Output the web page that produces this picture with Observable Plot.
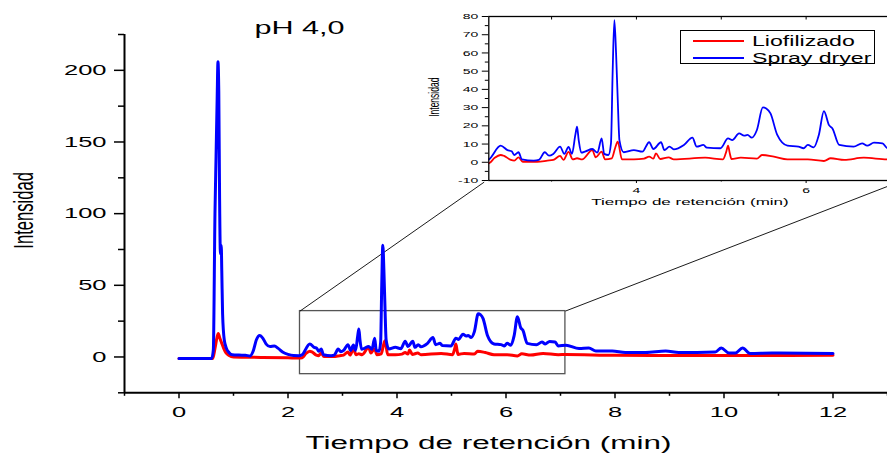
<!DOCTYPE html>
<html>
<head>
<meta charset="utf-8">
<script src="https://cdn.jsdelivr.net/npm/d3@7"></script>
<script src="https://cdn.jsdelivr.net/npm/@observablehq/plot@0.6"></script>
<style>
html, body { margin: 0; padding: 0; background: #fff; overflow: hidden; }
#wrap { position: relative; width: 887px; height: 453px; overflow: hidden; font-family: "Liberation Sans", Arial, sans-serif; }
#main, #inset { position: absolute; top: 0; }
#main { left: 0; }
#inset { left: 400px; }
#legend { position: absolute; left: 680px; top: 30px; width: 195px; height: 34px; box-sizing: border-box; border: 1.3px solid #000; background: #fff; }
#legend .sw { position: absolute; left: 12px; width: 51px; height: 0; border-top: 2px solid; }
#legend .lb { position: absolute; left: 71px; font-size: 14px; line-height: 16px; color: #000; white-space: nowrap; transform: scaleX(1.65); transform-origin: left center; }
</style>
</head>
<body>
<div id="wrap">
  <div id="main"></div>
  <div id="inset"></div>
  <div id="legend"></div>
</div>
<script>
// ---- data ----
const seriesNames = ["Liofilizado", "Spray dryer"];
const seriesColors = ["#ff0000", "#0000ff"];

const timeSpray = [0, 0.60, 0.63, 0.66, 0.68, 0.70, 0.715, 0.73, 0.745, 0.76, 0.775, 0.785, 0.80, 0.83, 0.87, 0.92, 0.98,
  1.10, 1.22, 1.30, 1.36, 1.42, 1.48, 1.54, 1.60, 1.67, 1.75, 1.82, 1.90, 2.00, 2.10, 2.20,
  2.26, 2.40, 2.48, 2.53, 2.56, 2.61, 2.65, 2.79, 2.85, 2.92, 2.97, 3.02, 3.10, 3.15, 3.20, 3.24, 3.28, 3.30, 3.32, 3.35,
  3.40, 3.48, 3.54, 3.59, 3.62, 3.67, 3.70, 3.72, 3.74, 3.76, 3.78, 3.80, 3.85, 3.97, 4.07, 4.15, 4.20, 4.29, 4.33,
  4.39, 4.44, 4.56, 4.66, 4.71, 4.79, 4.83, 4.99, 5.08, 5.13, 5.21, 5.27, 5.31, 5.36, 5.42, 5.49, 5.53, 5.58, 5.66,
  5.78, 5.91, 5.97, 6.02, 6.09, 6.15, 6.21, 6.27, 6.31, 6.39, 6.56, 6.66, 6.72, 6.80, 6.90, 6.96,
  7.10, 7.34, 7.52, 7.65, 7.95, 8.19, 8.56, 8.93, 9.17, 9.84, 9.95, 10.09, 10.21, 10.34, 10.48, 10.88, 12.0];
const intSpray = [-1, -1, 5, 100, 140, 180, 206, 185, 110, 72, 78, 60, 30, 12, 6, 3, 1.5,
  1.3, 1.2, 0.6, 4, 12, 15, 13, 9, 7.3, 7.6, 6, 3.5, 1.8, 1.0, 0.9,
  1.6, 9.1, 6.7, 6.0, 4.0, 5.5, 1.6, 0.9, 1.3, 5.5, 3.6, 4.6, 8.6, 4.6, 8.4, 4.6, 15, 19.5, 12, 5.3,
  6.0, 7.3, 5.3, 13.1, 4.6, 4.0, 10.4, 50, 78, 60, 34, 12, 5.5, 6.7, 5.8, 11, 7.3, 11, 6.7,
  8.6, 7.1, 9.5, 13.5, 8.6, 9.5, 8.0, 7.7, 13.1, 12.2, 15.9, 14.6, 15.0, 13.5, 17.7, 30.1, 29.5, 26.8, 15,
  9.1, 8.6, 7.7, 9.5, 8.2, 15, 28.1, 20.4, 18.6, 9.5, 8.6, 10.4, 9.1, 10.8, 10.4, 7.7,
  8.2, 5.9, 6.3, 4.2, 4.2, 3.1, 3.1, 4.2, 3.1, 3.5, 6.3, 2.8, 2.8, 6.3, 2.4, 2.8, 2.4];

const timeLiof = [0, 0.62, 0.66, 0.70, 0.72, 0.75, 0.78, 0.82, 0.86, 0.92, 1.00, 1.50, 2.00, 2.20,
  2.26, 2.33, 2.40, 2.44, 2.52, 2.56, 2.61, 2.66, 2.83, 2.95, 3.02, 3.10, 3.14, 3.20, 3.25, 3.30, 3.36,
  3.48, 3.52, 3.59, 3.63, 3.71, 3.75, 3.78, 3.83, 3.97, 4.09, 4.15, 4.20, 4.23, 4.28, 4.38, 4.44, 4.81,
  5.02, 5.06, 5.08, 5.10, 5.12, 5.23, 5.42, 5.48, 5.62, 5.78, 6.02, 6.21, 6.29, 6.45, 6.68, 6.96,
  7.10, 8.0, 10.0, 12.0];
const intLiof = [-1, -1, 6, 14, 16.4, 13, 10, 6, 3, 1, 0, -0.3, -0.6, -0.8,
  -0.6, 2.5, 4.0, 3.5, 1.3, 0.9, 2.7, 0.3, 0.3, 0.9, 1.3, 3.5, 1.3, 5.7, 1.6, 2.2, 1.6,
  6.7, 2.7, 5.8, 1.6, 2.2, 8, 11.3, 1.6, 1.6, 2.0, 3.1, 2.0, 4.9, 1.8, 2.7, 1.6, 2.5,
  1.6, 6, 9.1, 5, 1.8, 2.5, 2.0, 4.0, 3.1, 1.6, 1.6, 0.7, 2.2, 1.3, 2.5, 1.6,
  1.7, 1.2, 1.0, 1.2];

// main axes
const xMajorTicks = [0, 2, 4, 6, 8, 10, 12];
const xMinorTicks = [-1, 1, 3, 5, 7, 9, 11, 13];
const yMajorTicks = [0, 50, 100, 150, 200];
const yMinorTicks = [-25, 25, 75, 125, 175, 225];
// inset axes
const insetXMajorTicks = [4, 6];
const insetXMinorTicks = [3, 5];
const insetXTopTicks = [3, 4, 5, 6];
const insetYMajorTicks = [-10, 0, 10, 20, 30, 40, 50, 60, 70, 80];
const insetYMinorTicks = [-5, 5, 15, 25, 35, 45, 55, 65, 75];

// zoom annotation (main-plot data units)
const zoomX = [2.22, 7.09];
const zoomY = [-12, 32];
const connectorFromX = [2.22, 7.09];
const connectorFromY = [32, 32];
const connectorToX = [5.6, 13.0];
const connectorToY = [122, 119];

const titleText = "pH 4,0";
const xLabelText = "Tiempo de retención (min)";
const yLabelText = "Intensidad";

// ---- tables ----
const spray = timeSpray.map((t, i) => ({t, v: intSpray[i]}));
const liof = timeLiof.map((t, i) => ({t, v: intLiof[i]}));
const zoomBox = [{x1: zoomX[0], x2: zoomX[1], y1: zoomY[0], y2: zoomY[1]}];
const connectors = connectorFromX.map((x, i) => ({x1: x, y1: connectorFromY[i], x2: connectorToX[i], y2: connectorToY[i]}));

const FONT = "'Liberation Sans', Arial, sans-serif";
const intFormat = d => String(d);

function stretchText(svg, k) {
  svg.querySelectorAll("text").forEach(t => {
    const tr = t.getAttribute("transform");
    if (tr && /^\s*translate\([^)]*\)/.test(tr)) {
      t.setAttribute("transform", tr.replace(/^\s*(translate\([^)]*\))/, `$1 scale(${k},1)`));
    } else {
      const x = +(t.getAttribute("x") || 0), y = +(t.getAttribute("y") || 0);
      t.removeAttribute("x"); t.removeAttribute("y");
      t.setAttribute("transform", `translate(${x},${y}) scale(${k},1)` + (tr ? " " + tr : ""));
    }
  });
}

// ---- main chart ----
const main = Plot.plot({
  width: 887, height: 453,
  marginLeft: 124, marginRight: 0, marginTop: 34, marginBottom: 60.7,
  x: {domain: [-1, 13], label: null},
  y: {domain: [-25, 225], label: null},
  style: {fontFamily: FONT, color: "#000", background: "transparent", maxWidth: "none", overflow: "visible"},
  marks: [
    Plot.rect(zoomBox, {x1: "x1", x2: "x2", y1: "y1", y2: "y2", fill: "none", stroke: "#555", strokeWidth: 1.3}),
    Plot.link(connectors, {x1: "x1", y1: "y1", x2: "x2", y2: "y2", stroke: "#000", strokeWidth: 0.9}),
    Plot.line(liof, {x: "t", y: "v", stroke: seriesColors[0], strokeWidth: 3, curve: "monotone-x"}),
    Plot.line(spray, {x: "t", y: "v", stroke: seriesColors[1], strokeWidth: 3, curve: "monotone-x"}),
    Plot.ruleX([-1], {stroke: "#000", strokeWidth: 2}),
    Plot.ruleY([-25], {stroke: "#000", strokeWidth: 2}),
    Plot.axisX({ticks: xMajorTicks, tickSize: 6, tickPadding: 8, fontSize: 15, strokeWidth: 1.5, tickFormat: intFormat, label: null}),
    Plot.axisX({ticks: xMinorTicks, tickSize: 3.5, tickFormat: () => "", strokeWidth: 1.5, label: null}),
    Plot.axisY({ticks: yMajorTicks, tickSize: 10, tickPadding: 8, fontSize: 15, strokeWidth: 1.5, tickFormat: intFormat, label: null}),
    Plot.axisY({ticks: yMinorTicks, tickSize: 6, tickFormat: () => "", strokeWidth: 1.5, label: null}),
    Plot.text([titleText], {text: d => d, frameAnchor: "top", dx: -206.5, dy: -6, fontSize: 18, lineAnchor: "middle"}),
    Plot.text([xLabelText], {text: d => d, frameAnchor: "bottom", dx: -17.5, dy: 50.5, fontSize: 18.5, lineAnchor: "middle"}),
    Plot.text([yLabelText], {text: d => d, frameAnchor: "left", rotate: -90, dx: -100.7, dy: 35, fontSize: 16.6, lineAnchor: "middle"})
  ]
});
stretchText(main, 1.7);
document.getElementById("main").appendChild(main);

// ---- inset chart ----
const insetDomain = [2.26, 7.03];
const inRange = d => d.t >= 2.2 && d.t <= 7.2;
const inset = Plot.plot({
  width: 493, height: 215,
  marginLeft: 88.3, marginRight: 0, marginTop: 16, marginBottom: 35,
  x: {domain: insetDomain, label: null},
  y: {domain: [-10, 80], label: null},
  style: {fontFamily: FONT, color: "#000", background: "transparent", maxWidth: "none"},
  marks: [
    Plot.line(liof.filter(inRange), {x: "t", y: "v", stroke: seriesColors[0], strokeWidth: 1.8, curve: "monotone-x", clip: true}),
    Plot.line(spray.filter(inRange), {x: "t", y: "v", stroke: seriesColors[1], strokeWidth: 1.8, curve: "monotone-x", clip: true}),
    Plot.frame({stroke: "#000", strokeWidth: 1.3}),
    Plot.axisX({ticks: insetXMajorTicks, tickSize: 3, tickPadding: 3.5, fontSize: 8, tickFormat: intFormat, label: null}),
    Plot.axisX({ticks: insetXMinorTicks, tickSize: 1.5, tickFormat: () => "", label: null}),
    Plot.axisX({anchor: "top", ticks: insetXTopTicks, tickSize: -2.5, tickFormat: () => "", label: null}),
    Plot.axisY({ticks: insetYMajorTicks, tickSize: 6.5, tickPadding: 4, fontSize: 8, tickFormat: intFormat, label: null}),
    Plot.axisY({ticks: insetYMinorTicks, tickSize: 3.5, tickFormat: () => "", label: null}),
    Plot.text([xLabelText], {text: d => d, frameAnchor: "bottom", dx: -1.2, dy: 21, fontSize: 9.7, lineAnchor: "middle"}),
    Plot.text([yLabelText], {text: d => d, frameAnchor: "left", rotate: -90, dx: -54.8, dy: 18.3, fontSize: 8.5, lineAnchor: "middle"})
  ]
});
stretchText(inset, 1.75);
document.getElementById("inset").appendChild(inset);

// ---- legend ----
const legend = document.getElementById("legend");
const rowCenters = [10, 27.3];
seriesNames.forEach((name, i) => {
  const sw = document.createElement("div");
  sw.className = "sw";
  sw.style.top = (rowCenters[i] - 1) + "px";
  sw.style.borderTopColor = seriesColors[i];
  legend.appendChild(sw);
  const lb = document.createElement("div");
  lb.className = "lb";
  lb.style.top = (rowCenters[i] - 8) + "px";
  lb.textContent = name;
  legend.appendChild(lb);
});
</script>
</body>
</html>
